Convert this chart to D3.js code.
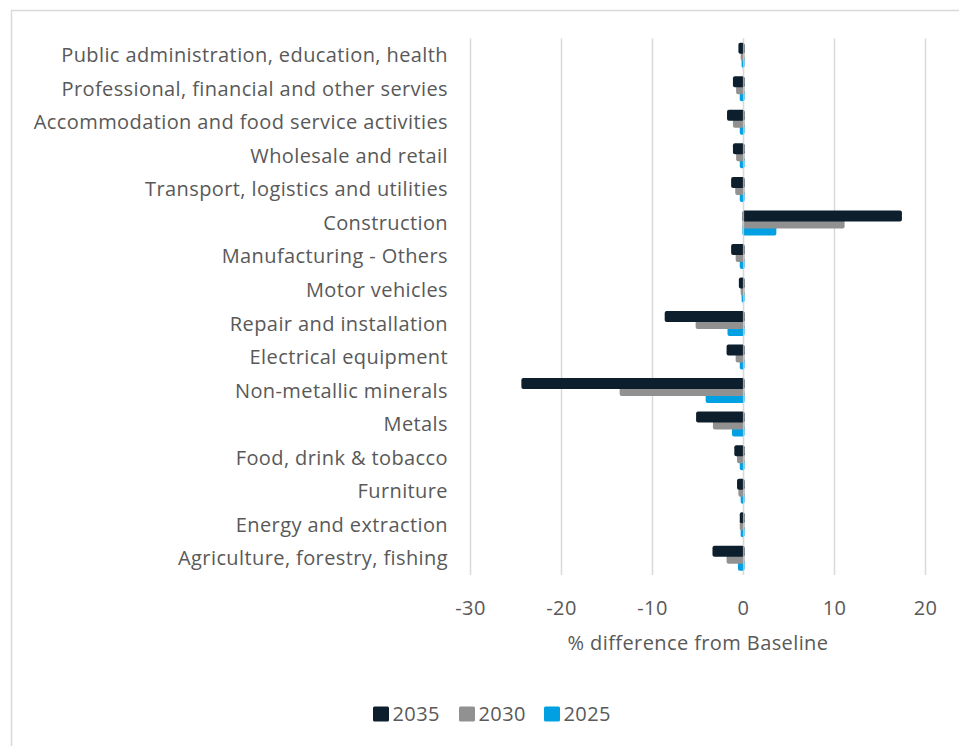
<!DOCTYPE html>
<html>
<head>
<meta charset="utf-8">
<script src="https://cdn.jsdelivr.net/npm/d3@7"></script>
<style>
  html, body { margin: 0; padding: 0; background: #fff; }
  svg { display: block; }
  text { font-family: "Open Sans", Lato, sans-serif; fill: #595959; letter-spacing: 0.4px; }
</style>
</head>
<body>
<svg id="chart" width="959" height="746"></svg>
<script>
// Sector labels, top to bottom
const categories = [
  "Public administration, education, health",
  "Professional, financial and other servies",
  "Accommodation and food service activities",
  "Wholesale and retail",
  "Transport, logistics and utilities",
  "Construction",
  "Manufacturing - Others",
  "Motor vehicles",
  "Repair and installation",
  "Electrical equipment",
  "Non-metallic minerals",
  "Metals",
  "Food, drink & tobacco",
  "Furniture",
  "Energy and extraction",
  "Agriculture, forestry, fishing"
];

// % difference from baseline, per year
const values2035 = [-0.45, -1.05, -1.7, -1.05, -1.25, 17.3, -1.25, -0.4, -8.55, -1.75, -24.3, -5.1, -0.9, -0.6, -0.3, -3.3];
const values2030 = [-0.2, -0.7, -1.05, -0.7, -0.8, 11.0, -0.75, -0.2, -5.15, -0.75, -13.5, -3.25, -0.6, -0.45, -0.3, -1.75];
const values2025 = [-0.1, -0.3, -0.3, -0.3, -0.3, 3.5, -0.3, -0.1, -1.65, -0.3, -4.05, -1.15, -0.3, -0.2, -0.2, -0.5];

const seriesNames = ["2035", "2030", "2025"];
const seriesValues = [values2035, values2030, values2025];
const seriesColors = ["#0d1f2d", "#919191", "#00a0e3"];

const xTicks = [-30, -20, -10, 0, 10, 20];
const xTitle = "% difference from Baseline";

const fontSize = "20px";
const svg = d3.select("#chart");

// outer chart frame
svg.append("rect")
  .attr("x", 11.5).attr("y", 10.5)
  .attr("width", 960).attr("height", 760)
  .attr("fill", "none").attr("stroke", "#d9d9d9").attr("stroke-width", 1.5);

const plot = { left: 470.5, right: 925.5, top: 38.5, bottom: 575 };

const x = d3.scaleLinear().domain([-30, 20]).range([plot.left, plot.right]);
const y = d3.scaleBand().domain(categories).range([plot.top, plot.bottom]).padding(0);

// vertical gridlines
svg.append("g")
  .selectAll("line")
  .data(xTicks)
  .join("line")
  .attr("x1", d => x(d)).attr("x2", d => x(d))
  .attr("y1", plot.top).attr("y2", plot.bottom)
  .attr("stroke", "#d9d9d9").attr("stroke-width", 1.5);

// bars: each year is offset downward, later years drawn beneath
const barH = 11, step = 7;
const groupH = barH + 2 * step;
const drawOrder = [2, 1, 0];
drawOrder.forEach(si => {
  const vals = seriesValues[si];
  svg.append("g")
    .selectAll("rect")
    .data(categories.map((c, i) => ({ c, v: vals[i] })))
    .join("rect")
    .attr("x", d => Math.min(x(0), x(d.v)) - 1)
    .attr("width", d => Math.abs(x(d.v) - x(0)) + 2)
    .attr("y", d => y(d.c) + y.bandwidth() / 2 - groupH / 2 + si * step)
    .attr("height", barH)
    .attr("rx", 2).attr("ry", 2)
    .attr("fill", seriesColors[si]);
});

// zero line over the bars
svg.append("line")
  .attr("x1", x(0)).attr("x2", x(0))
  .attr("y1", plot.top).attr("y2", plot.bottom)
  .attr("stroke", "#d9d9d9").attr("stroke-width", 1.2).attr("opacity", 0.7);

// category labels
svg.append("g")
  .selectAll("text")
  .data(categories)
  .join("text")
  .attr("x", 448)
  .attr("y", d => y(d) + y.bandwidth() / 2)
  .attr("dy", "0.35em")
  .attr("text-anchor", "end")
  .style("font-size", fontSize)
  .text(d => d);

// x tick labels
svg.append("g")
  .selectAll("text")
  .data(xTicks)
  .join("text")
  .attr("x", d => x(d))
  .attr("y", 608)
  .attr("dy", "0.35em")
  .attr("text-anchor", "middle")
  .style("font-size", fontSize)
  .text(d => d);

// axis title
svg.append("text")
  .attr("x", x(-5))
  .attr("y", 643)
  .attr("dy", "0.35em")
  .attr("text-anchor", "middle")
  .style("font-size", fontSize)
  .text(xTitle);

// legend
const legendX = [373, 459, 544];
const leg = svg.append("g")
  .selectAll("g")
  .data(seriesNames)
  .join("g")
  .attr("transform", (d, i) => `translate(${legendX[i]},714)`);
leg.append("rect")
  .attr("x", 0).attr("y", -7.5).attr("width", 16).attr("height", 15).attr("rx", 1.5)
  .attr("fill", (d, i) => seriesColors[i]);
leg.append("text")
  .attr("x", 19.5).attr("y", 0).attr("dy", "0.35em")
  .style("font-size", fontSize)
  .text(d => d);
</script>
</body>
</html>
